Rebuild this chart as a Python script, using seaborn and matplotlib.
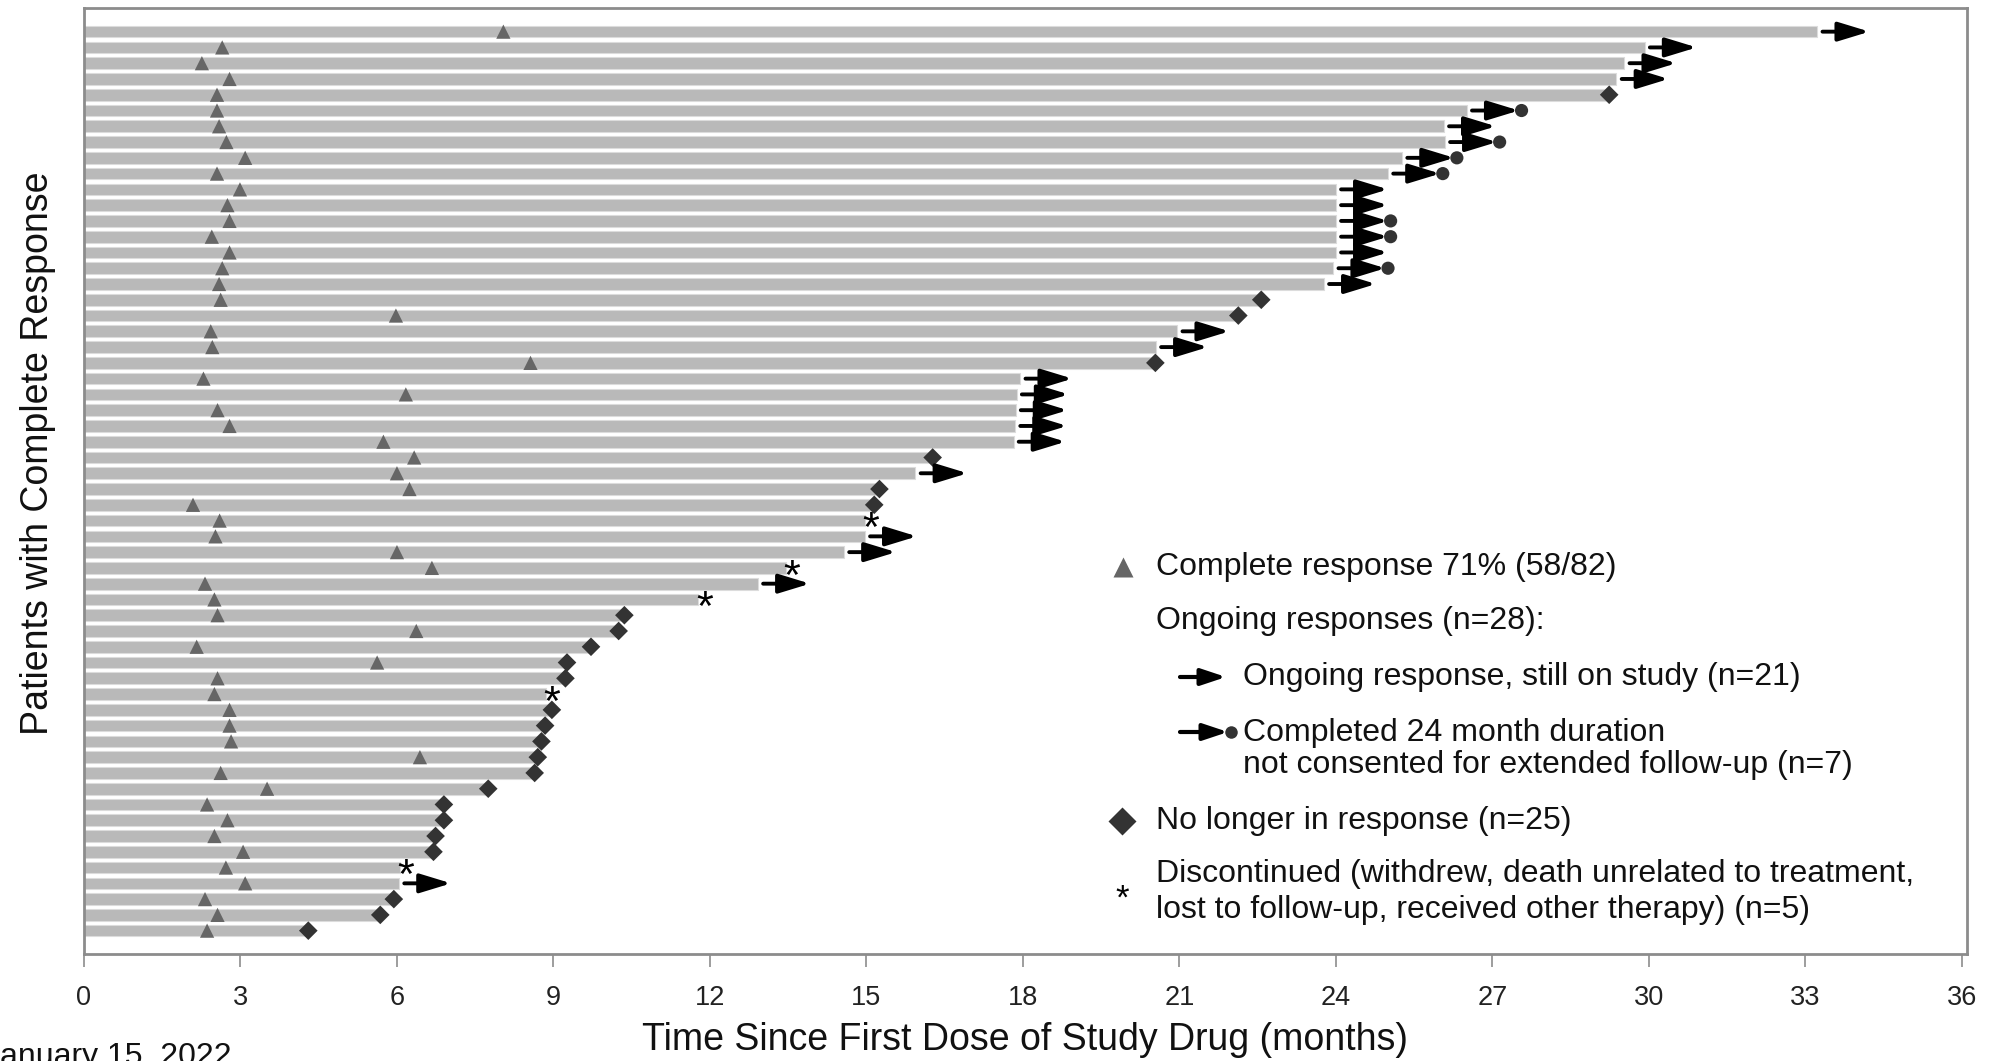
import numpy as np
import pandas as pd
import matplotlib
matplotlib.use("Agg")
import matplotlib.pyplot as plt
import seaborn as sns
from matplotlib.lines import Line2D
from matplotlib.patches import FancyArrowPatch

# ---------------- data (months), one entry per patient, top to bottom ----------------
response_end = [33.23, 29.92, 29.53, 29.38, 29.24, 26.51, 26.07, 26.09, 25.27, 25.00,
                24.00, 24.00, 24.00, 24.00, 24.00, 23.95, 23.77, 22.57, 22.13, 20.96,
                20.55, 20.54, 17.95, 17.88, 17.86, 17.85, 17.82, 16.27, 15.94, 15.25,
                15.15, 14.97, 14.97, 14.57, 13.45, 12.92, 11.78, 10.36, 10.25, 9.72,
                9.26, 9.23, 8.85, 8.97, 8.84, 8.77, 8.70, 8.64, 7.75, 6.90,
                6.90, 6.74, 6.70, 6.05, 6.04, 5.94, 5.68, 4.30]

cr_onset = [8.04, 2.65, 2.26, 2.79, 2.55, 2.55, 2.59, 2.73, 3.09, 2.55,
            2.99, 2.75, 2.79, 2.45, 2.79, 2.65, 2.59, 2.62, 5.98, 2.43,
            2.46, 8.56, 2.29, 6.17, 2.56, 2.79, 5.74, 6.33, 6.00, 6.24,
            2.09, 2.60, 2.52, 6.00, 6.67, 2.32, 2.50, 2.56, 6.37, 2.16,
            5.62, 2.56, 2.50, 2.79, 2.79, 2.82, 6.44, 2.62, 3.51, 2.36,
            2.75, 2.50, 3.05, 2.72, 3.09, 2.32, 2.56, 2.36]

# A = ongoing, still on study; AC = completed 24 months, not consented;
# D = no longer in response; S = discontinued
status = ["A", "A", "A", "A", "D", "AC", "A", "AC", "AC", "AC",
          "A", "A", "AC", "AC", "A", "AC", "A", "D", "D", "A",
          "A", "D", "A", "A", "A", "A", "A", "D", "A", "D",
          "D", "S", "A", "A", "S", "A", "S", "D", "D", "D",
          "D", "D", "S", "D", "D", "D", "D", "D", "D", "D",
          "D", "D", "D", "S", "A", "D", "D", "D"]

x_ticks = list(range(0, 37, 3))
x_label = "Time Since First Dose of Study Drug (months)"
y_label = "Patients with Complete Response"
legend_texts = {
    "cr": "Complete response 71% (58/82)",
    "ongoing": "Ongoing responses (n=28):",
    "arrow": "Ongoing response, still on study (n=21)",
    "arrowc1": "Completed 24 month duration",
    "arrowc2": "not consented for extended follow-up (n=7)",
    "diamond": "No longer in response (n=25)",
    "star1": "Discontinued (withdrew, death unrelated to treatment,",
    "star2": "lost to follow-up, received other therapy) (n=5)",
}
footnote = "January 15, 2022"

# ---------------- styling ----------------
sns.set_theme(style="white")
plt.rcParams['font.family'] = ['Liberation Sans', 'DejaVu Sans']

W, H = 1990, 1061
fig = plt.figure(figsize=(W / 100, H / 100), dpi=100)
fig.patch.set_facecolor("white")
ax = fig.add_axes([84 / W, 1 - 954 / H, (1967 - 84) / W, (954 - 8) / H])


def fp(x, y):
    return x / W, 1 - y / H


n = len(response_end)
df = pd.DataFrame({"patient": np.arange(n), "end": response_end,
                   "cr": cr_onset, "status": status})

BAR = "#b9b9b9"
DARK = "#333333"
TRI = "#666666"
ARROW = "-|>,head_length=1.9,head_width=0.58"

sns.barplot(data=df, x="end", y="patient", orient="h", color=BAR, saturation=1,
            width=0.74, edgecolor="#dcdcdc", linewidth=0.8, ax=ax)

# complete response onset
sns.scatterplot(data=df, x="cr", y="patient", marker="^", s=105, color=TRI,
                edgecolor="none", linewidth=0, ax=ax, zorder=4, legend=False)

# no longer in response
dd = df[df.status == "D"]
sns.scatterplot(data=dd, x="end", y="patient", marker="D", s=90, color=DARK,
                edgecolor="none", linewidth=0, ax=ax, zorder=5, legend=False)

# arrows
ar = df[df.status.isin(["A", "AC"])]
for _, r in ar.iterrows():
    ax.annotate("", xy=(r.end + 1.0, r.patient), xytext=(r.end + 0.1, r.patient),
                arrowprops=dict(arrowstyle=ARROW, color="black", lw=2.8,
                                shrinkA=0, shrinkB=0, mutation_scale=10),
                zorder=6)

# completed 24 months, not consented
ac = df[df.status == "AC"].assign(circ=lambda d: d.end + 1.05)
sns.scatterplot(data=ac, x="circ", y="patient", marker="o", s=90, color=DARK,
                edgecolor="none", linewidth=0, ax=ax, zorder=7, legend=False)

# discontinued
ss = df[df.status == "S"]
for _, r in ss.iterrows():
    ax.text(r.end + 0.12, r.patient + 0.62, "*", ha="center", va="center",
            fontsize=31, color="black", zorder=7)

# axes formatting
ax.set_xlim(0, 36.1)
ax.set_ylim(n + 0.48, -1.5)
ax.set_xticks(x_ticks)
ax.set_xticklabels([str(t) for t in x_ticks])
ax.set_yticks([])
ax.tick_params(axis="x", direction="out", length=9.5, width=1.2, color="#8c8c8c",
               labelsize=19.5, labelcolor="#222222", pad=12.5, bottom=True)
for sp in ax.spines.values():
    sp.set_visible(True)
    sp.set_color("#8c8c8c")
    sp.set_linewidth(2)

ax.set_xlabel(x_label, fontsize=27, color="#111111")
ax.xaxis.set_label_coords(*fp(1025, 1040), transform=fig.transFigure)
ax.xaxis.label.set_va("center")
ax.set_ylabel(y_label, fontsize=27, color="#111111")
ax.yaxis.set_label_coords(*fp(38, 453), transform=fig.transFigure)
ax.yaxis.label.set_va("center")

# ---------------- legend (manually laid out) ----------------
LFS = 23
fig.add_artist(Line2D([fp(1123, 567)[0]], [fp(1123, 567)[1]], marker="^", ms=15,
                      color=TRI, mec="none", transform=fig.transFigure))
fig.text(*fp(1156, 567), legend_texts["cr"], fontsize=LFS, va="center", color="#111111")
fig.text(*fp(1156, 621), legend_texts["ongoing"], fontsize=LFS, va="center", color="#111111")

fig.add_artist(FancyArrowPatch(
    fp(1180, 677), fp(1226, 677), transform=fig.transFigure,
    arrowstyle="-|>,head_length=1.5,head_width=0.5", mutation_scale=10,
    color="black", lw=3, shrinkA=0, shrinkB=0))
fig.text(*fp(1243, 677), legend_texts["arrow"], fontsize=LFS, va="center", color="#111111")

fig.add_artist(FancyArrowPatch(
    fp(1180, 732), fp(1228, 732), transform=fig.transFigure,
    arrowstyle="-|>,head_length=1.5,head_width=0.5", mutation_scale=10,
    color="black", lw=3, shrinkA=0, shrinkB=0))
fig.add_artist(Line2D([fp(1231, 732)[0]], [fp(1231, 732)[1]], marker="o", ms=9,
                      color=DARK, mec="none", transform=fig.transFigure))
fig.text(*fp(1243, 733), legend_texts["arrowc1"], fontsize=LFS, va="center", color="#111111")
fig.text(*fp(1243, 765), legend_texts["arrowc2"], fontsize=LFS, va="center", color="#111111")

fig.add_artist(Line2D([fp(1122, 821)[0]], [fp(1122, 821)[1]], marker="D", ms=14,
                      color=DARK, mec="none", transform=fig.transFigure))
fig.text(*fp(1156, 821), legend_texts["diamond"], fontsize=LFS, va="center", color="#111111")

fig.text(*fp(1122, 899), "*", fontsize=25, ha="center", va="center", color="black")
fig.text(*fp(1156, 874), legend_texts["star1"], fontsize=LFS, va="center", color="#111111")
fig.text(*fp(1156, 910), legend_texts["star2"], fontsize=LFS, va="center", color="#111111")

fig.text(-16 / W, 1 - 1065 / H, footnote, fontsize=23, va="baseline", color="#111111")

fig.savefig("out.png", dpi=100)
